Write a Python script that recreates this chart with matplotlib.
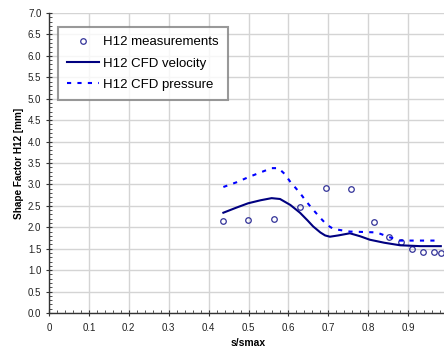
import matplotlib
matplotlib.use("Agg")
import matplotlib.pyplot as plt
from matplotlib.ticker import MultipleLocator
from matplotlib import font_manager

plt.rcParams['font.family'] = ['Liberation Sans', 'DejaVu Sans']

names = {f.name for f in font_manager.fontManager.ttflist}
narrow = 'Liberation Sans Narrow' if 'Liberation Sans Narrow' in names else 'Liberation Sans'

meas_x = [0.435, 0.499, 0.563, 0.629, 0.694, 0.757, 0.815, 0.851, 0.883, 0.911, 0.937, 0.965, 0.982]
meas_y = [2.15, 2.17, 2.19, 2.48, 2.92, 2.89, 2.13, 1.77, 1.65, 1.49, 1.42, 1.42, 1.39]

vel_x = [0.437, 0.470, 0.499, 0.530, 0.558, 0.579, 0.605, 0.629, 0.648, 0.662, 0.680, 0.692, 0.704,
         0.725, 0.754, 0.780, 0.804, 0.840, 0.880, 0.930, 0.982]
vel_y = [2.34, 2.46, 2.56, 2.63, 2.68, 2.66, 2.52, 2.34, 2.16, 2.02, 1.88, 1.81, 1.78,
         1.81, 1.86, 1.79, 1.71, 1.64, 1.58, 1.56, 1.56]

pres_x = [0.437, 0.470, 0.500, 0.530, 0.558, 0.575, 0.590, 0.604, 0.629, 0.645, 0.662, 0.680, 0.696,
          0.713, 0.754, 0.790, 0.821, 0.850, 0.880, 0.930, 0.976]
pres_y = [2.94, 3.05, 3.17, 3.28, 3.38, 3.38, 3.25, 3.07, 2.80, 2.60, 2.41, 2.22, 2.06,
          1.96, 1.90, 1.89, 1.88, 1.78, 1.69, 1.69, 1.69]

xticks = [0, 0.1, 0.2, 0.3, 0.4, 0.5, 0.6, 0.7, 0.8, 0.9, 1.0]
xticklabels = ['0', '0.1', '0.2', '0.3', '0.4', '0.5', '0.6', '0.7', '0.8', '0.9', '1']

W, H = 444, 347
fig = plt.figure(figsize=(W / 100, H / 100), dpi=100)
x0, x1 = 49, 448
y0, y1 = 313, 13
ax = fig.add_axes([x0 / W, 1 - y0 / H, (x1 - x0) / W, (y0 - y1) / H])

ax.plot(meas_x, meas_y, linestyle='none', marker='o', markersize=4,
        markerfacecolor='none', markeredgecolor='#333399', markeredgewidth=0.9,
        label='H12 measurements')
ax.plot(vel_x, vel_y, color='#000080', lw=1.5, label='H12 CFD velocity',
        solid_joinstyle='round')
ax.plot(pres_x, pres_y, color='#0000FF', lw=1.5, linestyle=(0, (2, 3)),
        label='H12 CFD pressure')

ax.set_xlim(0, 1.0)
ax.set_ylim(0, 7.0)
ax.set_xticks(xticks)
ax.set_xticklabels(xticklabels)
ax.yaxis.set_major_locator(MultipleLocator(0.5))
ax.yaxis.set_major_formatter(matplotlib.ticker.FormatStrFormatter('%.1f'))
ax.xaxis.set_minor_locator(MultipleLocator(0.02))
ax.yaxis.set_minor_locator(MultipleLocator(0.1))
ax.grid(True, which='major', color='#d4d4d4', lw=1.0)
ax.set_axisbelow(True)

for s in ['top', 'right']:
    ax.spines[s].set_visible(False)
for s in ['left', 'bottom']:
    ax.spines[s].set_color('#333333')
    ax.spines[s].set_linewidth(1.0)

ax.tick_params(which='major', direction='inout', length=5, width=0.8,
               labelsize=7, colors='#333333', labelcolor='#222222', pad=3)
ax.tick_params(axis='x', which='major', pad=5)
ax.tick_params(which='minor', direction='in', length=2, width=0.6, colors='#333333')

ax.set_xlabel('s/smax', fontsize=7.5, fontweight='bold', family=[narrow, 'DejaVu Sans'], labelpad=3)
ax.set_ylabel('Shape Factor H12 [mm]', fontsize=7.2, fontweight='bold',
              family=[narrow, 'DejaVu Sans'], labelpad=3)

leg = ax.legend(loc='upper left', bbox_to_anchor=((58 - x0) / (x1 - x0), (y0 - 27) / (y0 - y1)),
                fontsize=9.5, frameon=True, fancybox=False, borderpad=0.7,
                labelspacing=0.68, handlelength=2.4, handletextpad=0.3, borderaxespad=0)
leg.get_frame().set_edgecolor('#808080')
leg.get_frame().set_linewidth(1.5)

fig.savefig('out.png', dpi=100)
